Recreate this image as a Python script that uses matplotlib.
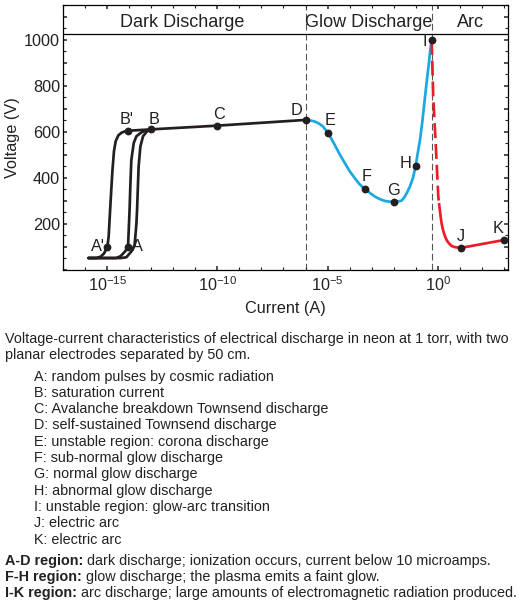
import numpy as np
import matplotlib.pyplot as plt
from matplotlib.ticker import FixedLocator, FixedFormatter, MultipleLocator, FuncFormatter, NullFormatter

plt.rcParams['font.family'] = ['Liberation Sans', 'DejaVu Sans']
plt.rcParams['mathtext.fontset'] = 'custom'
plt.rcParams['mathtext.rm'] = 'Liberation Sans'

# curves: log10(current in A), voltage in V
dark1_logi = [-15.86, -15.5, -15.3, -15.15, -15.0, -14.94, -14.88, -14.82, -14.77, -14.7,
              -14.62, -14.5, -14.35, -14.2, -14.05, -13.0, -10.03, -6.0]
dark1_v = [52, 52, 58, 72, 100, 145, 250, 350, 430, 515, 560, 585, 597, 602, 605, 611, 627, 652]
dark2_logi = [-15.86, -14.6, -14.4, -14.2, -14.06, -13.99, -13.95, -13.91, -13.8, -13.68, -13.45, -13.23]
dark2_v = [52, 52, 60, 80, 101, 261, 380, 478, 552, 581, 598, 607]
dark3_logi = [-15.86, -14.4, -14.14, -13.91, -13.76, -13.68, -13.65, -13.58, -13.5, -13.38, -13.2, -13.0]
dark3_v = [52, 52, 55, 80, 109, 200, 261, 449, 536, 581, 602, 611]

glow_logi = [-6.0, -5.8, -5.58, -5.38, -5.2, -4.97, -4.8, -4.67, -4.45, -4.21, -4.0, -3.76,
             -3.55, -3.3, -3.05, -2.85, -2.6, -2.4, -2.2, -1.99, -1.8, -1.64, -1.49, -1.38,
             -1.26, -1.12, -1.0, -0.9, -0.8, -0.7, -0.62, -0.54, -0.47, -0.4, -0.35, -0.3, -0.27]
glow_v = [652, 650, 645, 636, 623, 594, 566, 543, 503, 464, 430, 399,
          373, 352, 333, 319, 307, 300, 297, 297, 298, 301, 319, 338,
          362, 400, 450, 510, 565, 640, 710, 780, 840, 895, 942, 980, 1000]

arc_dash_logi = [-0.27, -0.2, -0.08, 0.03, 0.07]
arc_dash_v = [1000, 754, 536, 319, 285]
arc_logi = [0.07, 0.10, 0.14, 0.18, 0.23, 0.29, 0.35, 0.41, 0.52, 0.64, 0.8, 1.05, 3.0]
arc_v = [285, 261, 230, 203, 180, 159, 143, 130, 115, 104, 99, 96, 130]

# labelled points
pt_names = ["A'", "A", "B'", "B", "C", "D", "E", "F", "G", "H", "I", "J", "K"]
pt_logi = [-15.0, -14.06, -14.06, -13.0, -10.03, -6.0, -4.97, -3.3, -1.99, -1.0, -0.27, 1.05, 3.0]
pt_v = [100, 100, 605, 611, 627, 652, 594, 352, 297, 450, 1000, 96, 130]

# regions
region_names = ['Dark Discharge', 'Glow Discharge', 'Arc']
region_center_logi = [-11.6, -3.15, 1.48]
boundary_logi = [-6.0, -0.25]
header_v = 1025

caption = ["Voltage-current characteristics of electrical discharge in neon at 1 torr, with two",
           "planar electrodes separated by 50 cm."]
items = ["A: random pulses by cosmic radiation",
         "B: saturation current",
         "C: Avalanche breakdown Townsend discharge",
         "D: self-sustained Townsend discharge",
         "E: unstable region: corona discharge",
         "F: sub-normal glow discharge",
         "G: normal glow discharge",
         "H: abnormal glow discharge",
         "I: unstable region: glow-arc transition",
         "J: electric arc",
         "K: electric arc"]
notes_bold = ["A-D region:", "F-H region:", "I-K region:"]
notes_text = [" dark discharge; ionization occurs, current below 10 microamps.",
              " glow discharge; the plasma emits a faint glow.",
              " arc discharge; large amounts of electromagnetic radiation produced."]

BLACK = '#231f20'
BLUE = '#1ba8e0'
RED = '#ec1c2a'

W, H = 526, 608
fig = plt.figure(figsize=(W / 100, H / 100), dpi=100)
ax = fig.add_axes([63.3 / W, 1 - 270 / H, 445 / W, 264.7 / H])

lw = 1.95
for xs, ys in [(dark1_logi, dark1_v), (dark2_logi, dark2_v), (dark3_logi, dark3_v)]:
    ax.plot(10.0 ** np.array(xs), ys, color=BLACK, lw=lw, solid_joinstyle='round', solid_capstyle='round')
ax.plot(10.0 ** np.array(glow_logi), glow_v, color=BLUE, lw=lw, solid_joinstyle='round')
ax.plot(10.0 ** np.array(arc_dash_logi), arc_dash_v, color=RED, lw=lw, dashes=(5.5, 2.2))
ax.plot(10.0 ** np.array(arc_logi), arc_v, color=RED, lw=lw, solid_joinstyle='round')

for b in boundary_logi:
    ax.axvline(10.0 ** b, color='#555555', lw=0.8, dashes=(6, 3), zorder=1)
ax.axhline(header_v, color='black', lw=0.9)

ax.plot(10.0 ** np.array(pt_logi), pt_v, 'o', color=BLACK, ms=4.6, zorder=5)

# label offsets in pixels (dx, dy, ha, va)
offs = {"A'": (-2, 0, 'right', 'center'), "A": (4, 0, 'left', 'center'),
        "B'": (-1, 7, 'center', 'baseline'), "B": (3, 5, 'center', 'baseline'),
        "C": (2, 6.5, 'center', 'baseline'), "D": (-9.5, 5, 'center', 'baseline'),
        "E": (1.5, 8, 'center', 'baseline'), "F": (1.5, 8, 'center', 'baseline'),
        "G": (0, 7, 'center', 'baseline'), "H": (-4, 3, 'right', 'center'),
        "I": (-5, -2, 'right', 'center'), "J": (0, 7, 'center', 'baseline'),
        "K": (-5.5, 7, 'center', 'baseline')}
for n, lx, v in zip(pt_names, pt_logi, pt_v):
    dx, dy, ha, va = offs[n]
    ax.annotate(n, (10.0 ** lx, v), xytext=(dx * 0.72, dy * 0.72), textcoords='offset points',
                ha=ha, va=va, fontsize=11.7, color=BLACK)

for n, lx in zip(region_names, region_center_logi):
    ax.text(10.0 ** lx, 1056, n, ha='center', va='baseline', fontsize=13, color='#222222')

ax.set_xscale('log')
ax.set_xlim(1e-17, 10 ** 3.21)
ax.set_ylim(0, 1150)
ax.xaxis.set_major_locator(FixedLocator([1e-15, 1e-10, 1e-5, 1]))
ax.xaxis.set_major_formatter(FixedFormatter([r'$\mathregular{10^{-15}}$', r'$\mathregular{10^{-10}}$',
                                             r'$\mathregular{10^{-5}}$', r'$\mathregular{10^{0}}$']))
ax.xaxis.set_minor_locator(FixedLocator([10.0 ** k for k in range(-17, 4)]))
ax.xaxis.set_minor_formatter(NullFormatter())
ax.yaxis.set_major_locator(MultipleLocator(100))
ax.yaxis.set_major_formatter(FuncFormatter(lambda v, p: '%d' % v if v > 0 and int(v) % 200 == 0 and v <= 1000 else ''))
ax.yaxis.set_minor_locator(MultipleLocator(50))
ax.tick_params(which='both', direction='in', top=True, right=True, labelsize=11.7, colors='#222222')
ax.tick_params(which='major', length=3.2, width=1.1)
ax.tick_params(which='minor', length=2.2, width=0.8)
ax.tick_params(axis='y', pad=2.4)
ax.tick_params(axis='x', pad=3.5)
for s in ax.spines.values():
    s.set_linewidth(0.9)
ax.set_xlabel('Current (A)', fontsize=11.7, labelpad=5, color='#222222')
ax.set_ylabel('Voltage (V)', fontsize=11.7, labelpad=3, color='#222222')

# caption block
cs = 10.4
y0 = 343
fig.text(5 / W, 1 - y0 / H, caption[0], fontsize=cs, va='baseline', color='#222222')
fig.text(5 / W, 1 - (y0 + 16) / H, caption[1], fontsize=cs, va='baseline', color='#222222')
for i, t in enumerate(items):
    fig.text(34 / W, 1 - (380.5 + i * 16.3) / H, t, fontsize=cs, va='baseline', color='#222222')
r = fig.canvas.get_renderer()
for i, (b, t) in enumerate(zip(notes_bold, notes_text)):
    yy = 1 - (564.5 + i * 16.4) / H
    tb = fig.text(5 / W, yy, b, fontsize=cs, fontweight='bold', va='baseline', color='#222222')
    bb = tb.get_window_extent(renderer=r)
    fig.text(bb.x1 / W, yy, t, fontsize=cs, va='baseline', color='#222222')

fig.savefig('out.png', dpi=100)
